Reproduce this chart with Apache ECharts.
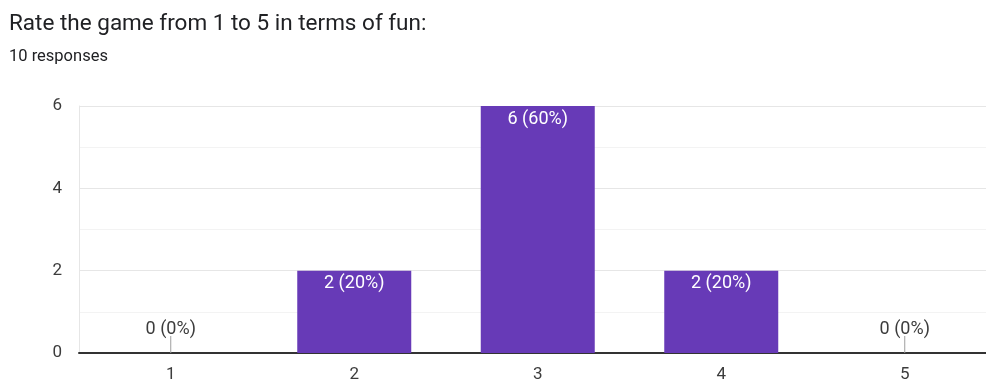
<!DOCTYPE html>
<html>
<head>
<meta charset="utf-8">
<script src="https://cdn.jsdelivr.net/npm/echarts@6/dist/echarts.min.js"></script>
<style>
  html, body { margin: 0; padding: 0; background: #fff; overflow: hidden; }
  /* the plot runs slightly past the right edge of the window */
  #chart { width: 1000px; height: 383px; }
</style>
</head>
<body>
<div id="chart"></div>
<script>
// Survey answers: rating scale and how many people picked each value
const ratings = ['1', '2', '3', '4', '5'];
const counts = [0, 2, 6, 2, 0];
const totalResponses = 10;
const yTicks = { min: 0, max: 6, interval: 2 };

const chart = echarts.init(document.getElementById('chart'));
const font = 'Roboto, "Noto Sans", sans-serif';

function pct(v) { return Math.round(v / totalResponses * 100); }

const barData = counts.map(function (v) {
  if (v === 0) {
    // Empty answers: label above the axis with a short stem
    return {
      value: v,
      label: {
        show: true,
        position: 'top',
        distance: 0,
        formatter: '{t|' + v + ' (' + pct(v) + '%)}\n{s|}',
        rich: {
          t: { color: '#3c3c3c', fontSize: 18, fontFamily: font, lineHeight: 14, align: 'center' },
          s: { width: 1, height: 17, backgroundColor: '#9e9e9e', align: 'center' }
        }
      }
    };
  }
  return {
    value: v,
    label: {
      show: true,
      position: 'insideTop',
      distance: 4,
      color: '#fff',
      fontSize: 18,
      fontFamily: font,
      formatter: v + ' (' + pct(v) + '%)'
    }
  };
});

chart.setOption({
  animation: false,
  backgroundColor: '#fff',
  title: {
    text: 'Rate the game from 1 to 5 in terms of fun:',
    subtext: totalResponses + ' responses',
    left: 4,
    top: 8,
    itemGap: 12,
    textStyle: { color: '#202124', fontSize: 22.5, fontWeight: 'normal', fontFamily: font },
    subtextStyle: { color: '#202124', fontSize: 16.5, fontFamily: font }
  },
  grid: { left: 79, top: 106, width: 917.5, height: 249, containLabel: false },
  xAxis: {
    type: 'category',
    data: ratings,
    axisLine: { show: true, lineStyle: { color: '#333', width: 2 } },
    axisTick: { show: false },
    axisLabel: { color: '#3c3c3c', fontSize: 17, fontFamily: font, margin: 13 }
  },
  yAxis: {
    type: 'value',
    min: yTicks.min,
    max: yTicks.max,
    interval: yTicks.interval,
    axisLine: { show: true, lineStyle: { color: '#e6e6e6', width: 1 } },
    axisTick: { show: false },
    axisLabel: { color: '#3c3c3c', fontSize: 17, fontFamily: font, margin: 17 },
    splitLine: { show: true, lineStyle: { color: '#e6e6e6', width: 1 } },
    minorTick: { show: false, splitNumber: 2 },
    minorSplitLine: { show: true, lineStyle: { color: '#f3f3f3', width: 1 } }
  },
  series: [{
    type: 'bar',
    data: barData,
    barWidth: 114,
    itemStyle: { color: '#673ab7' }
  }]
});
</script>
</body>
</html>
